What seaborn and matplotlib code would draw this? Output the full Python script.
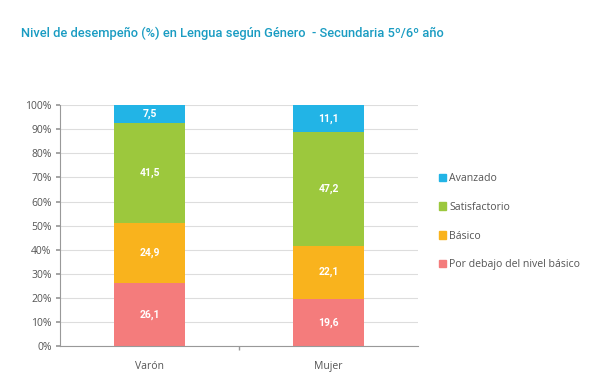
"""Stacked bar chart: Nivel de desempeño en Lengua según Género."""

import matplotlib.pyplot as plt
import matplotlib.patches as mpatches
import seaborn as sns
import pandas as pd
import numpy as np

sns.set_theme(style="white")
plt.rcParams["font.family"] = ["Open Sans", "DejaVu Sans"]

generos = ["Varón", "Mujer"]
niveles = ["Por debajo del nivel básico", "Básico", "Satisfactorio", "Avanzado"]
por_debajo = [26.1, 19.6]
basico = [24.9, 22.1]
satisfactorio = [41.5, 47.2]
avanzado = [7.5, 11.1]
colores = ["#F47C7C", "#F9B31D", "#9CC83D", "#22B4E6"]

valores = np.array([por_debajo, basico, satisfactorio, avanzado])
acumulado = valores.cumsum(axis=0)

fig = plt.figure(figsize=(6, 3.85), dpi=100)
ax = fig.add_axes([0.1, 0.101, 0.597, 0.626])

# draw cumulative bars from the top segment down so they stack visually
for i in reversed(range(len(niveles))):
    df = pd.DataFrame({"genero": generos, "valor": acumulado[i]})
    sns.barplot(data=df, x="genero", y="valor", color=colores[i],
                width=0.4, saturation=1, linewidth=0, ax=ax, zorder=2)

for j in range(len(generos)):
    base = 0
    for i in range(len(niveles)):
        v = valores[i, j]
        ax.text(j, base + v / 2, f"{v:.1f}".replace(".", ","), ha="center",
                va="center", color="white", fontsize=7.5, fontweight="bold",
                family=["Roboto", "DejaVu Sans"], zorder=3)
        base += v

ax.set_ylim(0, 100)
ax.set_xlim(-0.5, 1.5)
ax.set_yticks(range(0, 101, 10))
ax.set_yticklabels([f"{t}%" for t in range(0, 101, 10)])
ax.yaxis.grid(True, color="#DDDDDD", linewidth=0.8, zorder=0)
ax.set_axisbelow(True)
ax.set_xlabel("")
ax.set_ylabel("")
for s in ["top", "right"]:
    ax.spines[s].set_visible(False)
for s in ["left", "bottom"]:
    ax.spines[s].set_color("#999999")
    ax.spines[s].set_linewidth(0.8)
ax.tick_params(axis="y", left=True, length=3, color="#999999",
               labelsize=7.5, labelcolor="#555555", pad=3)
ax.tick_params(axis="x", bottom=False, labelsize=7.5, labelcolor="#555555",
               pad=5)
ax.set_xticks([0.5], minor=True)
ax.tick_params(axis="x", which="minor", bottom=True, length=3,
               color="#999999")

handles = [mpatches.Patch(color=colores[i], label=niveles[i])
           for i in reversed(range(len(niveles)))]
fig.legend(handles=handles, loc="upper left", bbox_to_anchor=(0.715, 0.575),
           frameon=False, fontsize=7.6, handlelength=0.7, handleheight=0.7,
           handletextpad=0.3, labelspacing=1.68, labelcolor="#555555")

fig.text(0.035, 0.905, "Nivel de desempeño (%) en Lengua según Género  - Secundaria 5º/6º año",
         color="#1A9CC2", fontsize=9.3, fontweight="medium",
         family=["Roboto", "DejaVu Sans"])

fig.savefig("out.png", dpi=100)
